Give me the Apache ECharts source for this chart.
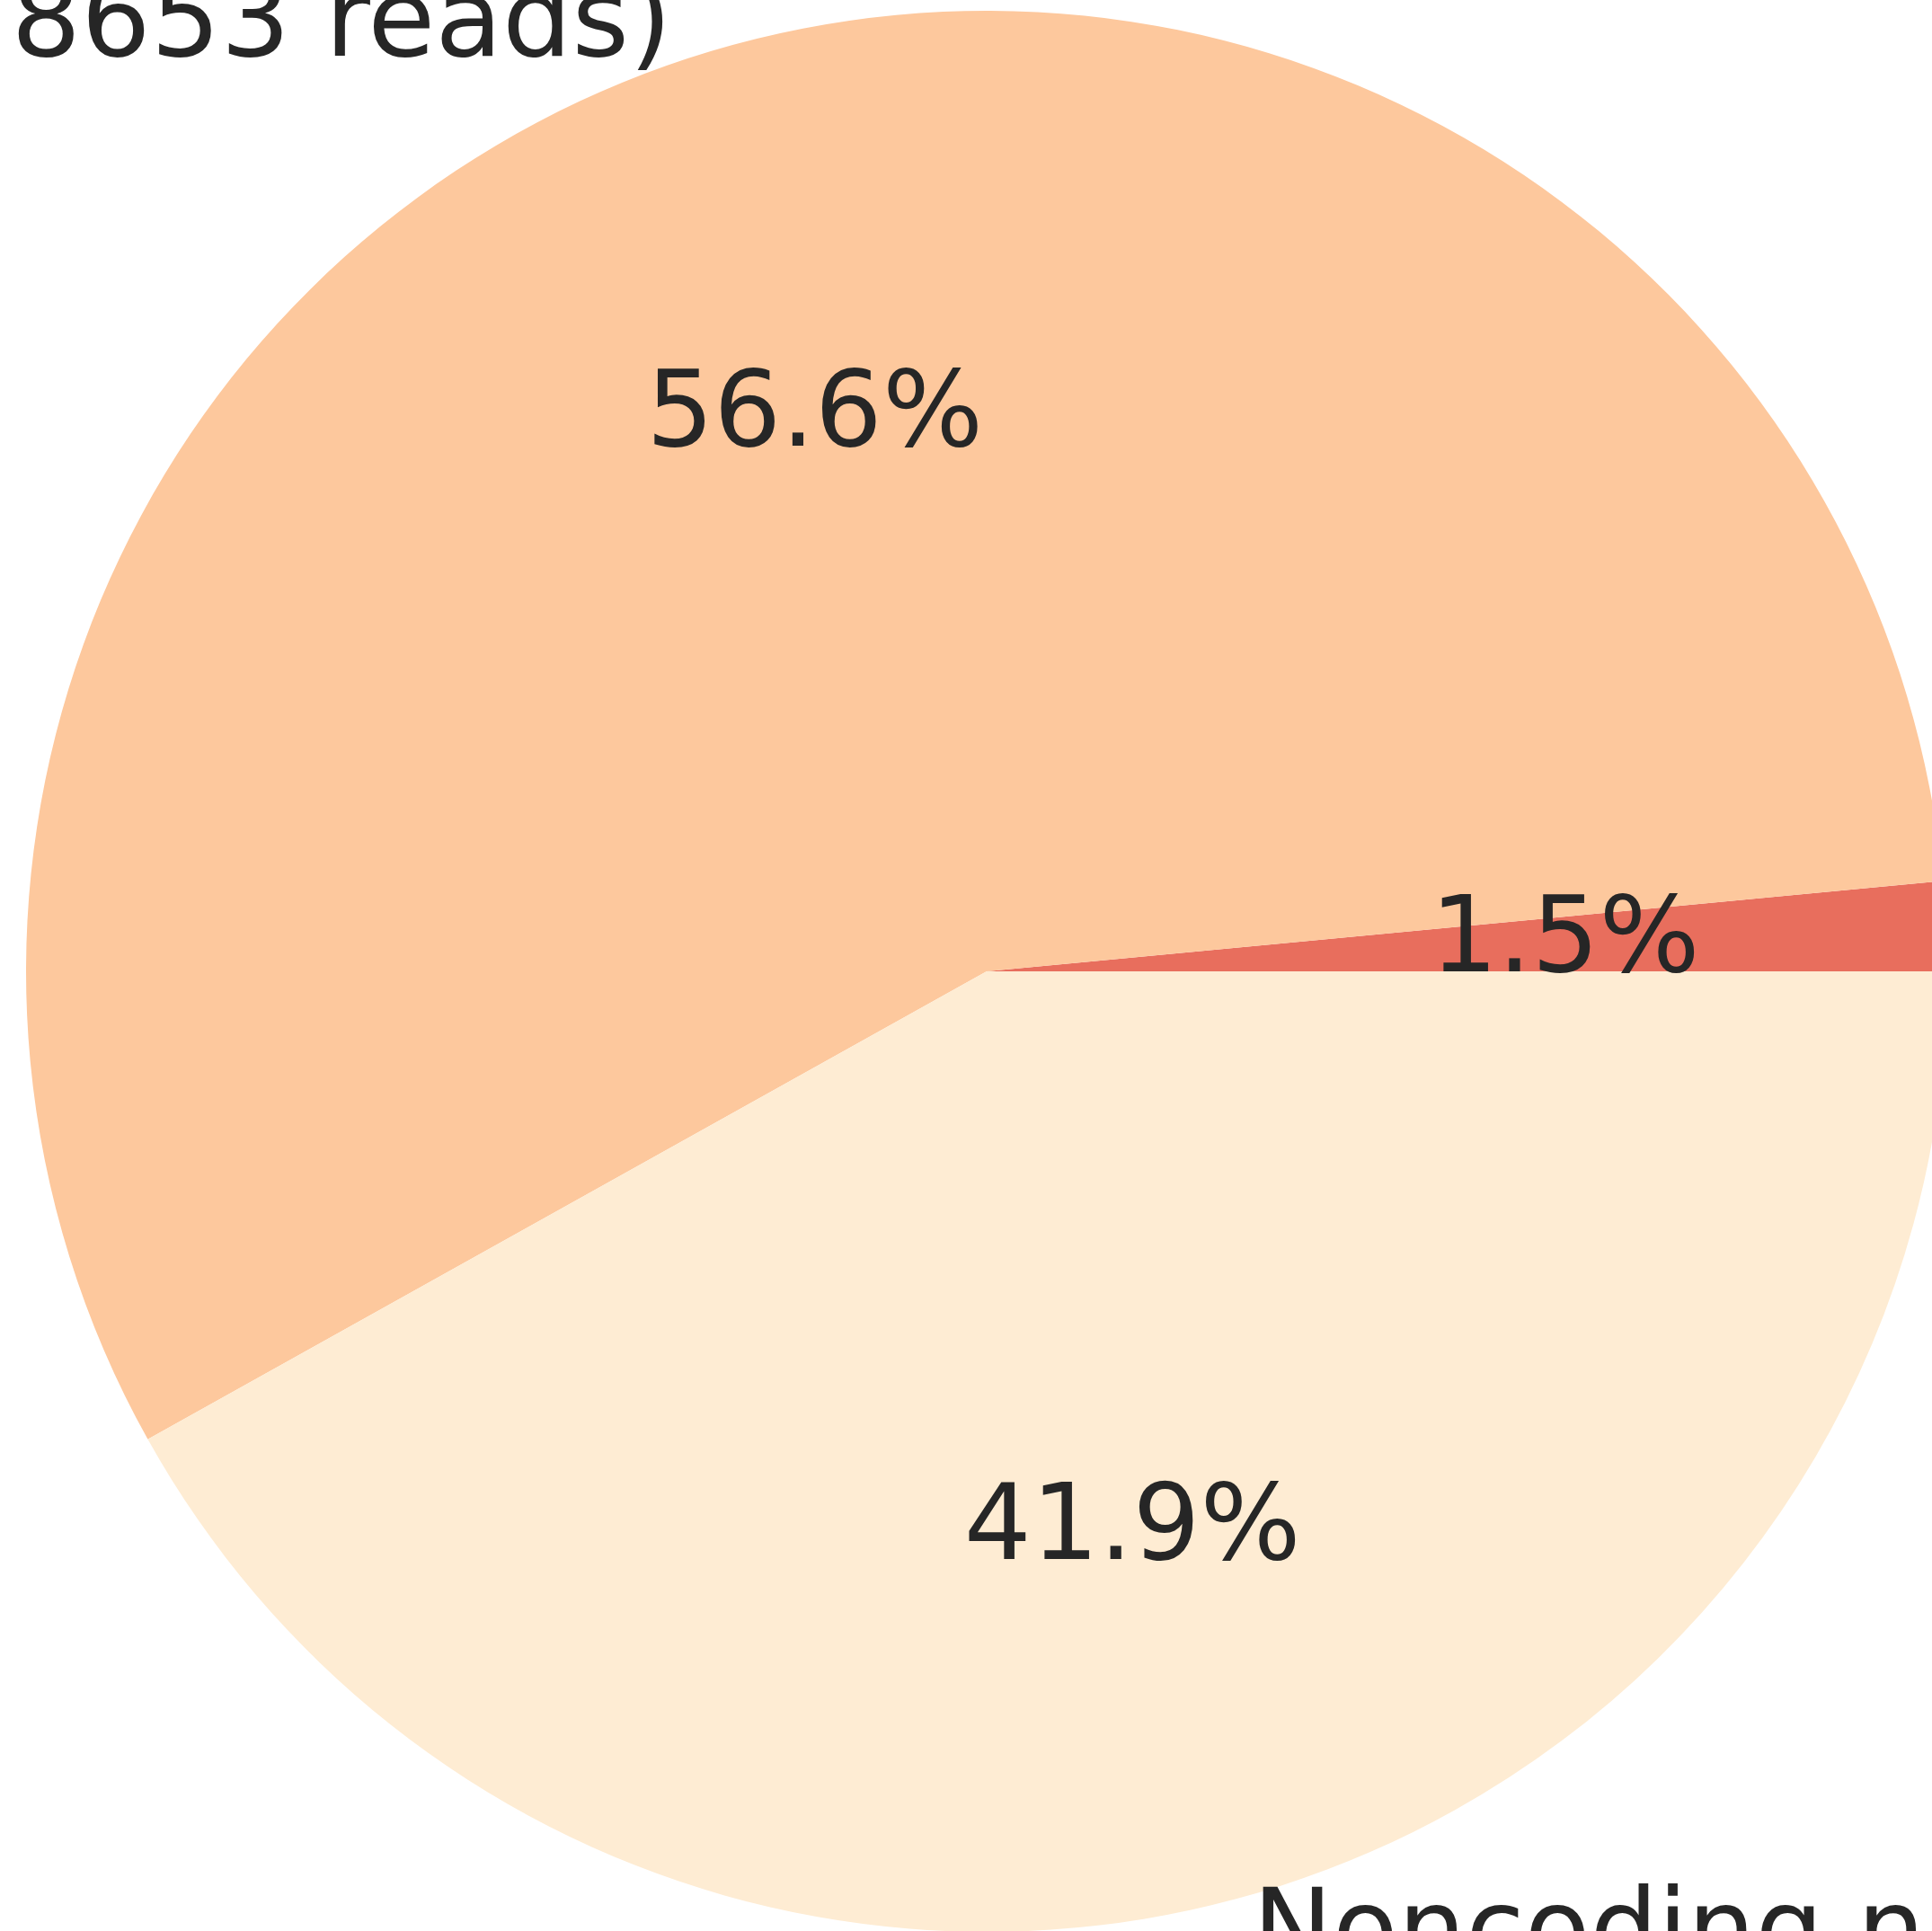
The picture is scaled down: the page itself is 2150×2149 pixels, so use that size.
<!DOCTYPE html>
<html>
<head>
<meta charset="utf-8">
<script src="https://cdn.jsdelivr.net/npm/echarts@6/dist/echarts.min.js"></script>
<style>html,body{margin:0;padding:0;background:#fff;}#c{width:2150px;height:2149px;}</style>
</head>
<body>
<div id="c"></div>
<script>
// slice order counter-clockwise from 3 o'clock
var sliceNames = ['', '\n8653 reads)', 'Noncoding n\n '];
var sliceValues = [1.5, 56.6, 41.9];
var sliceColors = ['#E86E5D', '#FDC89D', '#FEECD3'];

var R = 1069;
var FONT = 'DejaVu Sans';
var FS = 119;

var chart = echarts.init(document.getElementById('c'), null, {renderer: 'canvas'});

var mainData = sliceNames.map(function (n, i) {
  var d = {name: n, value: sliceValues[i], itemStyle: {color: sliceColors[i]}};
  if (i === 1) {
    d.label = {fontSize: 122, lineHeight: 145, padding: [0, 1, 0, 0]};
  }
  return d;
});
var pctData = sliceNames.map(function (n, i) {
  return {name: 'p' + i, value: sliceValues[i]};
});

chart.setOption({
  animation: false,
  backgroundColor: '#ffffff',
  series: [
    {
      type: 'pie',
      center: [1098, 1081],
      radius: [0, R],
      startAngle: 0,
      clockwise: false,
      avoidLabelOverlap: false,
      minShowLabelAngle: 0,
      silent: true,
      itemStyle: {borderWidth: 0},
      label: {
        show: true,
        position: 'outside',
        formatter: '{b}',
        fontFamily: FONT,
        fontSize: FS,
        lineHeight: 125,
        color: '#262626',
        distanceToLabelLine: 0
      },
      labelLine: {show: false, length: R * 0.1, length2: 0},
      emphasis: {disabled: true},
      data: mainData
    },
    {
      type: 'pie',
      center: [1098, 1081],
      radius: [0, R * 1.2],
      startAngle: 0,
      clockwise: false,
      avoidLabelOverlap: false,
      minShowLabelAngle: 0,
      silent: true,
      z: 5,
      itemStyle: {color: 'rgba(0,0,0,0)', borderWidth: 0},
      label: {
        show: true,
        position: 'inside',
        formatter: function (p) { return p.value.toFixed(1) + '%'; },
        fontFamily: FONT,
        fontSize: 118,
        color: '#262626'
      },
      labelLine: {show: false},
      emphasis: {disabled: true},
      data: pctData
    }
  ]
});
</script>
</body>
</html>
